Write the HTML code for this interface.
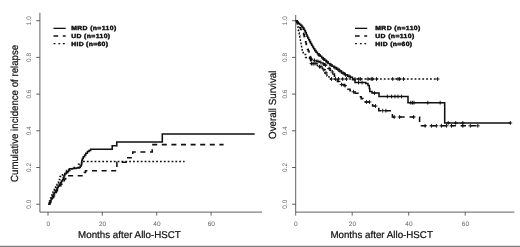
<!DOCTYPE html>
<html><head><meta charset="utf-8"><title>Figure</title>
<style>
html,body{margin:0;padding:0;background:#fff;}
body{width:520px;height:247px;overflow:hidden;position:relative;}
svg{position:absolute;left:0;top:0;display:block;filter:blur(0.35px);text-rendering:geometricPrecision;font-family:"Liberation Sans",Arial,sans-serif;}
.b1{position:absolute;left:0;top:245px;width:520px;height:1px;background:#e4e4e4;}
.b2{position:absolute;left:0;top:246px;width:520px;height:1px;background:#7c7c7c;}
</style></head><body>
<svg width="520" height="247" viewBox="0 0 520 247">
<g stroke="#444" stroke-width="0.85" fill="none"><path d="M39.9 12.7 V212.1 H262"/><path d="M36.2 204.2 H39.9M36.2 167.5 H39.9M36.2 130.8 H39.9M36.2 94.1 H39.9M36.2 57.4 H39.9M36.2 20.7 H39.9M48.0 212.1 V215.6M102.3 212.1 V215.6M156.7 212.1 V215.6M211.1 212.1 V215.6"/></g><g font-size="6.5" fill="#646464" text-anchor="middle"><text transform="translate(31.2 204.2) rotate(-90)">0.0</text><text transform="translate(31.2 167.5) rotate(-90)">0.2</text><text transform="translate(31.2 130.8) rotate(-90)">0.4</text><text transform="translate(31.2 94.1) rotate(-90)">0.6</text><text transform="translate(31.2 57.4) rotate(-90)">0.8</text><text transform="translate(31.2 20.7) rotate(-90)">1.0</text><text x="48.2" y="226.2">0</text><text x="102.5" y="226.2">20</text><text x="156.89999999999998" y="226.2">40</text><text x="211.29999999999998" y="226.2">60</text></g><g fill="#111" stroke="#111" stroke-width="0.22"><text font-size="10.3" transform="translate(17.7 181.95) rotate(-90)" textLength="137.1" lengthAdjust="spacingAndGlyphs">Cumulative incidence of relapse</text><text font-size="9.85" x="78.1" y="238.25" textLength="102.7" lengthAdjust="spacingAndGlyphs">Months after Allo-HSCT</text></g>
<g stroke="#444" stroke-width="0.85" fill="none"><path d="M295.7 15.0 V212.1 H514.3"/><path d="M292.0 204.2 H295.7M292.0 167.5 H295.7M292.0 130.8 H295.7M292.0 94.1 H295.7M292.0 57.4 H295.7M292.0 20.7 H295.7M295.7 212.1 V215.6M352.2 212.1 V215.6M408.7 212.1 V215.6M465.2 212.1 V215.6"/></g><g font-size="6.5" fill="#646464" text-anchor="middle"><text transform="translate(286.6 204.2) rotate(-90)">0.0</text><text transform="translate(286.6 167.5) rotate(-90)">0.2</text><text transform="translate(286.6 130.8) rotate(-90)">0.4</text><text transform="translate(286.6 94.1) rotate(-90)">0.6</text><text transform="translate(286.6 57.4) rotate(-90)">0.8</text><text transform="translate(286.6 20.7) rotate(-90)">1.0</text><text x="295.9" y="226.2">0</text><text x="352.4" y="226.2">20</text><text x="408.9" y="226.2">40</text><text x="465.4" y="226.2">60</text></g><g fill="#111" stroke="#111" stroke-width="0.22"><text font-size="10.3" transform="translate(276.3 138.95) rotate(-90)" textLength="68.4" lengthAdjust="spacingAndGlyphs">Overall Survival</text><text font-size="9.85" x="330.4" y="238.2" textLength="102.5" lengthAdjust="spacingAndGlyphs">Months after Allo-HSCT</text></g>
<g stroke="#101010" fill="none"><path d="M53.5 28.35 H65.7" stroke-width="1.3"/><path d="M53.5 36.0 h4.7 M62.800000000000004 36.0 H65.7" stroke-width="1.3"/><path d="M53.6 43.6 h1.8 M58.4 43.6 h1.8 M62.9 43.6 h1.8" stroke-width="1.45"/></g><g font-size="6.0" font-weight="bold" fill="#0a0a0a" stroke="#0a0a0a" stroke-width="0.4"><text transform="translate(71.2 30.35) scale(1.14 1)" textLength="39.47" lengthAdjust="spacing">MRD (n=110)</text><text transform="translate(71.2 37.95) scale(1.14 1)" textLength="34.12" lengthAdjust="spacing">UD (n=110)</text><text transform="translate(71.2 45.55) scale(1.14 1)" textLength="32.28" lengthAdjust="spacing">HID (n=60)</text></g>
<g stroke="#101010" fill="none"><path d="M355.0 28.35 H367.2" stroke-width="1.3"/><path d="M355.0 36.0 h4.7 M364.3 36.0 H367.2" stroke-width="1.3"/><path d="M355.1 43.6 h1.8 M359.9 43.6 h1.8 M364.4 43.6 h1.8" stroke-width="1.45"/></g><g font-size="6.0" font-weight="bold" fill="#0a0a0a" stroke="#0a0a0a" stroke-width="0.4"><text transform="translate(375.3 30.35) scale(1.14 1)" textLength="39.47" lengthAdjust="spacing">MRD (n=110)</text><text transform="translate(375.3 37.95) scale(1.14 1)" textLength="34.12" lengthAdjust="spacing">UD (n=110)</text><text transform="translate(375.3 45.55) scale(1.14 1)" textLength="32.28" lengthAdjust="spacing">HID (n=60)</text></g>
<g stroke="#101010" stroke-width="1.55" fill="none" stroke-linejoin="miter">
<path d="M48.5 204.1 H49.6 V201.0 H50.6 V198.0 H51.8 V194.9 H53.0 V191.9 H54.3 V188.8 H55.6 V185.7 H57.0 V182.7 H58.4 V179.6 H60.0 V176.6 H62.5 V173.5 H66.5 V170.4 H72.0 V167.4 H78.5 V164.3 H81.6 V161.6 H184.6 V161.6" stroke-dasharray="1.8 2.05" stroke-width="1.5"/>
<path d="M48.5 204.1 H49.8 V202.4 H50.8 V200.7 H51.7 V199.0 H52.7 V197.4 H53.6 V195.7 H54.5 V194.0 H55.4 V192.4 H56.4 V190.7 H57.4 V189.0 H58.5 V187.4 H59.7 V185.7 H60.9 V184.0 H62.0 V182.4 H63.2 V180.7 H64.4 V179.0 H65.6 V177.4 H67.2 V175.7 H83.0 V174.0 H84.3 V172.4 H85.5 V170.8 H116.9 V169.1 H116.9 V167.4 H116.9 V165.8 H116.9 V164.1 H116.9 V162.2 H127.2 V160.0 H127.8 V157.7 H132.0 V155.0 H132.8 V152.0 H152.2 V148.5 H152.2 V144.6 H223.6 V144.6" stroke-dasharray="5.0 4.6"/>
<path d="M48.5 204.1 H49.3 V202.6 H50.2 V200.8 H51.1 V199.0 H52.0 V197.2 H52.8 V195.5 H53.6 V193.9 H54.5 V192.4 H55.4 V190.8 H56.3 V189.2 H57.2 V187.6 H58.2 V186.0 H59.3 V184.2 H60.3 V182.6 H61.5 V181.0 H62.6 V179.4 H63.3 V177.5 H64.0 V175.6 H64.8 V173.8 H66.2 V172.6 H67.6 V171.4 H68.5 V170.0 H69.4 V168.8 H72.5 V168.4 H76.0 V168.0 H79.1 V167.5 H80.2 V166.0 H81.2 V164.6 H81.7 V162.0 H81.9 V160.2 H82.4 V158.5 H83.3 V156.7 H84.6 V154.9 H85.8 V153.2 H87.4 V151.5 H89.0 V150.4 H90.6 V149.2 H112.2 V145.7 H116.8 V142.0 H162.3 V134.0 H254.7 V134.0"/>
</g>
<g stroke="#101010" stroke-width="1.55" fill="none">
<path d="M295.7 20.8 H297.3 V23.9 H297.8 V26.9 H298.2 V30.0 H298.6 V33.0 H299.2 V36.1 H299.8 V39.2 H300.4 V42.2 H301.0 V45.3 H301.6 V48.3 H302.2 V51.4 H303.2 V54.4 H305.6 V57.5 H309.4 V60.6 H310.7 V63.6 H317.5 V66.7 H322.5 V69.8 H325.0 V72.9 H327.0 V75.9 H329.0 V79.0 H438.0 V79.0" stroke-dasharray="1.8 2.05" stroke-width="1.5"/>
<path d="M295.7 20.8 H296.8 V22.4 H297.8 V24.0 H298.8 V25.8 H299.8 V27.6 H300.8 V29.4 H301.8 V31.2 H302.8 V33.0 H303.6 V34.8 H304.2 V36.6 H304.7 V38.4 H305.2 V40.2 H305.6 V42.0 H306.0 V43.8 H306.4 V45.6 H306.9 V47.4 H307.5 V49.2 H308.2 V51.0 H309.0 V52.8 H309.8 V54.6 H310.4 V56.6 H310.6 V59.2 H313.5 V60.4 H316.4 V61.4 H319.5 V62.4 H322.0 V63.8 H324.2 V65.2 H326.2 V66.8 H328.2 V68.4 H330.0 V70.2 H331.6 V72.0 H333.0 V74.0 H334.4 V76.2 H335.8 V78.6 H337.4 V81.4 H339.6 V84.6 H344.2 V85.6 H346.2 V87.4 H348.0 V89.2 H350.0 V90.6 H352.0 V91.8 H355.0 V93.2 H358.0 V94.8 H359.6 V96.8 H361.2 V98.6 H363.0 V100.2 H364.4 V102.0 H372.6 V106.0 H378.8 V110.7 H392.4 V117.0 H419.6 V125.8 H479.0 V125.8" stroke-dasharray="5.2 4.8"/>
<path d="M295.7 20.8 H297.0 V22.0 H298.2 V23.2 H299.4 V24.2 H300.6 V25.2 H301.8 V26.4 H302.8 V27.8 H303.8 V29.2 H304.6 V30.8 H305.4 V32.6 H306.2 V34.4 H307.0 V36.2 H307.8 V38.0 H308.7 V39.8 H309.6 V41.6 H310.6 V43.4 H311.6 V45.2 H312.6 V47.0 H313.6 V48.8 H314.8 V50.6 H316.0 V52.2 H317.4 V53.8 H318.8 V55.0 H320.2 V56.2 H321.6 V57.6 H323.0 V58.9 H324.6 V60.3 H326.2 V61.8 H328.0 V63.4 H330.0 V64.9 H332.0 V66.3 H334.0 V67.6 H336.5 V69.2 H339.0 V71.0 H341.5 V73.0 H344.5 V74.8 H347.5 V76.2 H350.4 V77.2 H352.5 V79.8 H355.0 V82.5 H365.8 V83.4 H368.0 V85.4 H369.3 V88.5 H369.8 V91.5 H372.0 V93.0 H379.0 V96.5 H408.0 V102.7 H444.7 V123.0 H510.6 V123.0"/>
</g>
<path d="M329.6 79.0h3.8M331.5 77.1v3.8M333.6 79.0h3.8M335.5 77.1v3.8M336.6 79.0h3.8M338.5 77.1v3.8M340.8 79.0h3.8M342.7 77.1v3.8M344.6 79.0h3.8M346.5 77.1v3.8M353.1 79.0h3.8M355.0 77.1v3.8M356.9 79.0h3.8M358.8 77.1v3.8M358.5 79.0h3.8M360.4 77.1v3.8M366.1 79.0h3.8M368.0 77.1v3.8M369.3 79.0h3.8M371.2 77.1v3.8M370.8 79.0h3.8M372.7 77.1v3.8M374.6 79.0h3.8M376.5 77.1v3.8M390.8 79.0h3.8M392.7 77.1v3.8M396.1 79.0h3.8M398.0 77.1v3.8M397.7 79.0h3.8M399.6 77.1v3.8M401.6 79.0h3.8M403.5 77.1v3.8M435.7 79.0h3.8M437.6 77.1v3.8M309.6 63.6h3.8M311.5 61.7v3.8M312.1 63.6h3.8M314.0 61.7v3.8M317.6 66.7h3.8M319.5 64.8v3.8M385.4 96.5h3.8M387.3 94.6v3.8M389.7 96.5h3.8M391.6 94.6v3.8M393.1 96.5h3.8M395.0 94.6v3.8M396.1 96.5h3.8M398.0 94.6v3.8M399.7 96.5h3.8M401.6 94.6v3.8M408.9 102.7h3.8M410.8 100.8v3.8M410.5 102.7h3.8M412.4 100.8v3.8M412.1 102.7h3.8M414.0 100.8v3.8M425.9 102.7h3.8M427.8 100.8v3.8M438.3 102.7h3.8M440.2 100.8v3.8M446.3 123.0h3.8M448.2 121.0v3.8M453.8 123.0h3.8M455.7 121.0v3.8M460.9 123.0h3.8M462.8 121.0v3.8M508.4 123.0h3.8M510.3 121.0v3.8M356.6 82.5h3.8M358.5 80.6v3.8M360.1 82.5h3.8M362.0 80.6v3.8M372.6 93.0h3.8M374.5 91.1v3.8M338.1 71.0h3.8M340.0 69.1v3.8M343.6 74.8h3.8M345.5 72.9v3.8M347.1 76.2h3.8M349.0 74.3v3.8M311.1 63.6h3.8M313.0 61.7v3.8M314.1 63.6h3.8M316.0 61.7v3.8M319.1 66.7h3.8M321.0 64.8v3.8M321.9 69.8h3.8M323.8 67.9v3.8M324.1 72.9h3.8M326.0 71.0v3.8M317.1 55.0h3.8M319.0 53.1v3.8M321.7 58.9h3.8M323.6 57.0v3.8M325.1 61.8h3.8M327.0 59.9v3.8M329.1 64.9h3.8M331.0 63.0v3.8M333.1 67.6h3.8M335.0 65.7v3.8M335.9 69.2h3.8M337.8 67.3v3.8M341.1 73.0h3.8M343.0 71.1v3.8M318.9 62.4h3.8M320.8 60.5v3.8M321.3 63.8h3.8M323.2 61.9v3.8M323.5 65.2h3.8M325.4 63.3v3.8M327.3 68.4h3.8M329.2 66.5v3.8M330.5 72.0h3.8M332.4 70.1v3.8M380.8 110.7h3.8M382.7 108.8v3.8M383.9 110.7h3.8M385.8 108.8v3.8M392.3 117.0h3.8M394.2 115.1v3.8M397.7 117.0h3.8M399.6 115.1v3.8M411.7 117.0h3.8M413.6 115.1v3.8M423.2 125.8h3.8M425.1 123.9v3.8M429.5 125.8h3.8M431.4 123.9v3.8M434.5 125.8h3.8M436.4 123.9v3.8M439.5 125.8h3.8M441.4 123.9v3.8M444.6 125.8h3.8M446.5 123.9v3.8M449.6 125.8h3.8M451.5 123.9v3.8M460.9 125.8h3.8M462.8 123.9v3.8M468.4 125.8h3.8M470.3 123.9v3.8M475.9 125.8h3.8M477.8 123.9v3.8M309.6 59.2h3.8M311.5 57.3v3.8M312.6 60.4h3.8M314.5 58.5v3.8M316.1 61.4h3.8M318.0 59.5v3.8M339.6 84.6h3.8M341.5 82.7v3.8M343.1 85.6h3.8M345.0 83.7v3.8M351.6 91.8h3.8M353.5 89.9v3.8M364.6 102.0h3.8M366.5 100.1v3.8M367.6 102.0h3.8M369.5 100.1v3.8M373.6 106.0h3.8M375.5 104.1v3.8" stroke="#101010" stroke-width="0.95" fill="none"/>
</svg>
<div class="b1"></div><div class="b2"></div>
</body></html>
